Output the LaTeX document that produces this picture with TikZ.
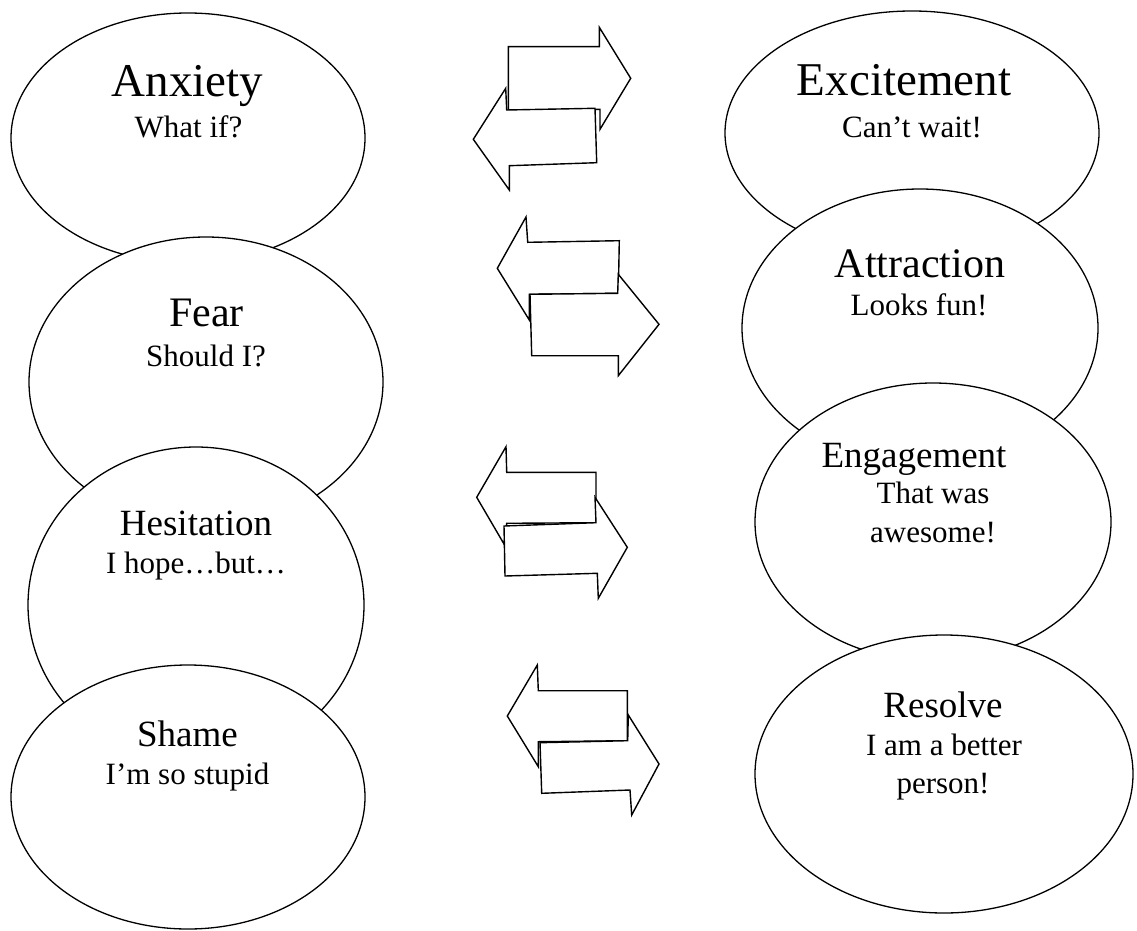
\documentclass[tikz,border=0pt]{standalone}
\usepackage{fontspec}
\setmainfont{Liberation Serif}
\usetikzlibrary{shapes.geometric}
\tikzset{
  bubble/.style={ellipse, draw, fill=white, line width=1.3pt, inner sep=0pt},
  bigtitle/.style={anchor=base, inner sep=0pt, font=\fontsize{47}{50}\selectfont},
  midtitle/.style={anchor=base, inner sep=0pt, font=\fontsize{42}{45}\selectfont},
  smalltitle/.style={anchor=base, inner sep=0pt, font=\fontsize{37}{40}\selectfont},
  subtext/.style={anchor=base, inner sep=0pt, font=\fontsize{31}{34}\selectfont},
  arrowshape/.style={draw, fill=white, line width=1.4pt, line join=miter},
}
\begin{document}
\begin{tikzpicture}[x=1pt, y=-1pt]
\useasboundingbox (0,0) rectangle (1137,931);

% left column
\node[bubble, minimum width=354pt, minimum height=250pt] (anx) at (188,138) {};
\node[bubble, minimum width=354pt, minimum height=290pt] (fear) at (206,382) {};
\node[bubble, minimum width=336pt, minimum height=316pt] (hes) at (196,605) {};
\node[bubble, minimum width=354pt, minimum height=264pt] (shame) at (188,797) {};

% right column
\node[bubble, minimum width=374pt, minimum height=244pt] (exc) at (912,133) {};
\node[bubble, minimum width=356pt, minimum height=278pt] (attr) at (920,328) {};
\node[bubble, minimum width=356pt, minimum height=278pt] (eng) at (933,522) {};
\node[bubble, minimum width=378pt, minimum height=278pt] (res) at (944,774) {};

% arrows pair 1
\draw[arrowshape] (508.3,46.7) -- (599.3,46.7) -- (599.3,27.3) -- (630.7,78.3)
  -- (600,129.3) -- (600,109.3) -- (508.3,110) -- cycle;
\draw[arrowshape] (595,108.3) -- (596.7,162.7) -- (509.3,165.7) -- (509.3,190)
  -- (473.3,139.3) -- (505.7,88.3) -- (506.7,110) -- cycle;

% arrows pair 2
\draw[arrowshape] (527.7,242.3) -- (619.3,240.7) -- (618.3,293.3) -- (529.3,294.3)
  -- (529.3,320) -- (497.3,268.3) -- (526,217) -- cycle;
\draw[arrowshape] (530,294.3) -- (617.7,293.3) -- (618.3,274.3) -- (659,324.3)
  -- (618.3,375.7) -- (618.3,355.7) -- (531.7,355.7) -- cycle;

% arrows pair 3
\draw[arrowshape] (506.7,472.3) -- (596,472.3) -- (596,522.7) -- (506.7,523.3)
  -- (504,544) -- (476.7,497.3) -- (506,446.7) -- cycle;
\draw[arrowshape] (504,526) -- (596,522.7) -- (595,497.3) -- (627.3,547.3)
  -- (598.3,598.3) -- (597.3,573.3) -- (505,576) -- cycle;

% arrows pair 4
\draw[arrowshape] (538.3,690.7) -- (627.3,690.7) -- (627.3,740.7) -- (538.3,741.7)
  -- (538.3,766.7) -- (507.3,716) -- (537.3,665) -- cycle;
\draw[arrowshape] (540,742.7) -- (627.7,740.7) -- (628.3,715) -- (659,764)
  -- (631.7,815) -- (630,790) -- (541.7,793.3) -- cycle;

% texts left
\node[bigtitle] (anxT) at (187.5,97) {Anxiety};
\node[subtext] (anxS) at (188.5,138) {What if?};
\node[midtitle] (fearT) at (206.5,326) {Fear};
\node[subtext] (fearS) at (206,366) {Should I?};
\node[smalltitle] (hesT) at (196,535) {Hesitation};
\node[subtext] (hesS) at (196,573) {I hope…but…};
\node[smalltitle] (shameT) at (187.5,746) {Shame};
\node[subtext] (shameS) at (187.5,784) {I’m so stupid};

% texts right
\node[bigtitle] (excT) at (904,96) {Excitement};
\node[subtext] (excS) at (912,137) {Can’t wait!};
\node[midtitle] (attrT) at (920,277) {Attraction};
\node[subtext] (attrS) at (919,315) {Looks fun!};
\node[smalltitle] (engT) at (914,467) {Engagement};
\node[subtext] (engS) at (933,503) {That was};
\node[subtext] (engS2) at (933,542) {awesome!};
\node[smalltitle] (resT) at (943,717) {Resolve};
\node[subtext] (resS) at (944,755) {I am a better};
\node[subtext] (resS2) at (943,793) {person!};
\end{tikzpicture}
\end{document}
